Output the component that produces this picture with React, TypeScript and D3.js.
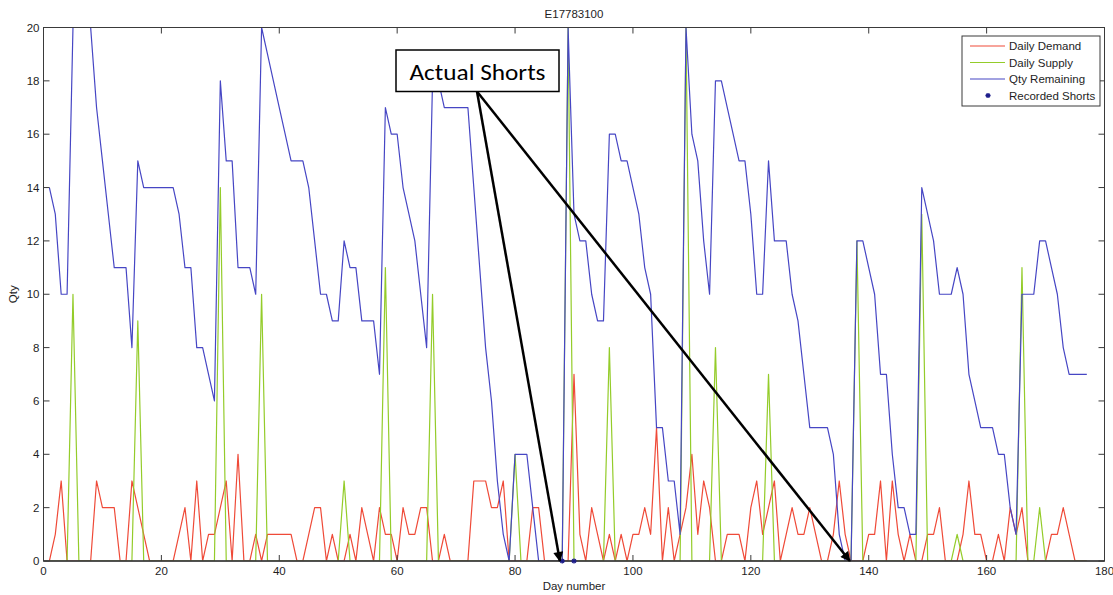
import React from "react";
import * as d3 from "d3";

// Part E17783100: daily demand, daily supply and quantity on hand, days 1..177
const dayNumbers: number[] = Array.from({ length: 177 }, (_, i) => i + 1);

const dailyDemand: number[] = [
  0, 1, 3, 0, 0, 0, 0, 0, 3, 2,
  2, 2, 0, 0, 3, 2, 1, 0, 0, 0,
  0, 0, 1, 2, 0, 3, 0, 1, 1, 2,
  3, 0, 4, 0, 0, 1, 0, 1, 1, 1,
  1, 1, 0, 0, 1, 2, 2, 0, 1, 0,
  0, 1, 0, 2, 1, 0, 2, 1, 1, 0,
  2, 1, 1, 2, 2, 0, 0, 1, 0, 0,
  0, 0, 3, 3, 3, 2, 2, 3, 0, 0,
  0, 0, 2, 2, 0, 0, 0, 0, 0, 7,
  1, 0, 2, 1, 0, 1, 0, 1, 0, 1,
  1, 2, 1, 5, 0, 2, 0, 1, 2, 4,
  1, 3, 2, 0, 0, 1, 1, 1, 0, 2,
  3, 1, 2, 3, 0, 1, 2, 1, 1, 2,
  1, 0, 0, 1, 3, 1, 0, 0, 0, 1,
  1, 3, 0, 3, 1, 0, 1, 0, 0, 1,
  1, 2, 0, 0, 0, 1, 3, 1, 1, 0,
  0, 1, 0, 2, 1, 2, 0, 0, 0, 0,
  1, 1, 2, 1, 0, 0, 0,
];

const dailySupply: number[] = [
  0, 0, 0, 0, 10, 0, 0, 0, 0, 0,
  0, 0, 0, 0, 0, 9, 0, 0, 0, 0,
  0, 0, 0, 0, 0, 0, 0, 0, 0, 14,
  0, 0, 0, 0, 0, 0, 10, 0, 0, 0,
  0, 0, 0, 0, 0, 0, 0, 0, 0, 0,
  3, 0, 0, 0, 0, 0, 0, 11, 0, 0,
  0, 0, 0, 0, 0, 10, 0, 0, 0, 0,
  0, 0, 0, 0, 0, 0, 0, 0, 0, 4,
  0, 0, 0, 0, 0, 0, 0, 0, 20, 0,
  0, 0, 0, 0, 0, 8, 0, 0, 0, 0,
  0, 0, 0, 0, 0, 0, 0, 0, 20, 0,
  0, 0, 0, 8, 0, 0, 0, 0, 0, 0,
  0, 0, 7, 0, 0, 0, 0, 0, 0, 0,
  0, 0, 0, 0, 0, 0, 0, 12, 0, 0,
  0, 0, 0, 0, 0, 0, 0, 0, 13, 0,
  0, 0, 0, 0, 1, 0, 0, 0, 0, 0,
  0, 0, 0, 0, 0, 11, 0, 0, 2, 0,
  0, 0, 0, 0, 0, 0, 0,
];

const qtyRemaining: number[] = [
  14, 13, 10, 10, 20, 20, 20, 20, 17, 15,
  13, 11, 11, 11, 8, 15, 14, 14, 14, 14,
  14, 14, 13, 11, 11, 8, 8, 7, 6, 18,
  15, 15, 11, 11, 11, 10, 20, 19, 18, 17,
  16, 15, 15, 15, 14, 12, 10, 10, 9, 9,
  12, 11, 11, 9, 9, 9, 7, 17, 16, 16,
  14, 13, 12, 10, 8, 18, 18, 17, 17, 17,
  17, 17, 14, 11, 8, 6, 3, 1, 0, 4,
  4, 4, 2, 0, 0, 0, 0, 0, 20, 13,
  12, 12, 10, 9, 9, 16, 16, 15, 15, 14,
  13, 11, 10, 5, 5, 3, 3, 1, 20, 16,
  15, 12, 10, 18, 18, 17, 16, 15, 15, 13,
  10, 10, 15, 12, 12, 12, 10, 9, 7, 5,
  5, 5, 5, 4, 1, 0, 0, 12, 12, 11,
  10, 7, 7, 4, 2, 2, 1, 1, 14, 13,
  12, 10, 10, 10, 11, 10, 7, 6, 5, 5,
  5, 4, 4, 2, 1, 10, 10, 10, 12, 12,
  11, 10, 8, 7, 7, 7, 7,
];

const recordedShortDays: number[] = [88, 90];
const recordedShortQty: number[] = [0, 0];

const xTicks: number[] = [0, 20, 40, 60, 80, 100, 120, 140, 160, 180];
const yTicks: number[] = [0, 2, 4, 6, 8, 10, 12, 14, 16, 18, 20];

const legendLabels: string[] = ["Daily Demand", "Daily Supply", "Qty Remaining", "Recorded Shorts"];
const calloutText = "Actual Shorts";
// days the callout arrows point at (both on the zero line)
const calloutTargets: number[] = [87.6, 136.8];

const W = 1113;
const H = 595;
const plot = { left: 43.5, right: 1104.5, top: 27.5, bottom: 561 };

const RED = "#ef4a38";
const GREEN = "#94cc2a";
const BLUE = "#4646c4";
const SHORT = "#1c1c8a";
const AXIS = "#3a3a3a";
const TEXT = "#1e1e1e";
const FONT = "'Liberation Sans', Arial, Helvetica, sans-serif";

function Asterisk({ cx, cy, r }: { cx: number; cy: number; r: number }) {
  const a = r * 0.7;
  return (
    <g stroke={SHORT} strokeWidth={1.4}>
      <line x1={cx - r} y1={cy} x2={cx + r} y2={cy} />
      <line x1={cx} y1={cy - r} x2={cx} y2={cy + r} />
      <line x1={cx - a} y1={cy - a} x2={cx + a} y2={cy + a} />
      <line x1={cx - a} y1={cy + a} x2={cx + a} y2={cy - a} />
    </g>
  );
}

export default function App() {
  const x = d3.scaleLinear().domain([0, 180]).range([plot.left, plot.right]);
  const y = d3.scaleLinear().domain([0, 20]).range([plot.bottom, plot.top]);

  const line = d3
    .line<number>()
    .x((_, i) => x(dayNumbers[i]))
    .y((v) => y(v));

  const series = [
    { values: dailyDemand, color: RED },
    { values: dailySupply, color: GREEN },
    { values: qtyRemaining, color: BLUE },
  ];

  const tickLen = 6;
  const pw = plot.right - plot.left;
  const ph = plot.bottom - plot.top;

  // legend box
  const lg = { x: 962, y: 36, w: 138, h: 70 };
  const rowY = [46, 62.5, 79, 95.5];

  // callout box
  const box = { x: 396, y: 50, w: 163, h: 41.5 };
  const arrowFrom = { x: 477, y: box.y + box.h };

  return (
    <svg
      width={W}
      height={H}
      viewBox={`0 0 ${W} ${H}`}
      style={{ position: "absolute", left: 0, top: 0, background: "#fff" }}
    >
      <defs>
        <clipPath id="plotClip">
          <rect x={plot.left} y={plot.top - 1} width={pw} height={ph + 1} />
        </clipPath>
        <marker
          id="arrowHead"
          viewBox="0 0 10 10"
          refX="9"
          refY="5"
          markerWidth="4.5"
          markerHeight="4"
          orient="auto"
        >
          <path d="M0,0 L10,5 L0,10 z" fill="#000" />
        </marker>
      </defs>

      <rect x={0} y={0} width={W} height={H} fill="#fff" />

      {/* data lines */}
      <g clipPath="url(#plotClip)" fill="none">
        {series.map((s, k) => (
          <path key={k} d={line(s.values) || ""} stroke={s.color} strokeWidth={1.2} strokeLinejoin="round" />
        ))}
      </g>

      {/* axes frame and ticks */}
      <g stroke={AXIS} strokeWidth={1} fill="none">
        <rect x={plot.left} y={plot.top} width={pw} height={ph} />
        <line x1={plot.left} y1={plot.bottom} x2={plot.right} y2={plot.bottom} strokeWidth={1.6} />
        {xTicks.map((t) => (
          <g key={"xt" + t}>
            <line x1={x(t)} y1={plot.bottom} x2={x(t)} y2={plot.bottom - tickLen} />
            <line x1={x(t)} y1={plot.top} x2={x(t)} y2={plot.top + tickLen} />
          </g>
        ))}
        {yTicks.map((t) => (
          <g key={"yt" + t}>
            <line x1={plot.left} y1={y(t)} x2={plot.left + tickLen} y2={y(t)} />
            <line x1={plot.right} y1={y(t)} x2={plot.right - tickLen} y2={y(t)} />
          </g>
        ))}
      </g>

      {/* recorded shorts */}
      {recordedShortDays.map((d, i) => (
        <Asterisk key={"rs" + d} cx={x(d)} cy={y(recordedShortQty[i])} r={2.6} />
      ))}

      {/* tick labels */}
      <g fontFamily={FONT} fontSize={11.5} fill={TEXT}>
        {xTicks.map((t) => (
          <text key={"xl" + t} x={x(t)} y={plot.bottom + 14} textAnchor="middle">
            {t}
          </text>
        ))}
        {yTicks.map((t) => (
          <text key={"yl" + t} x={plot.left - 4} y={y(t) + 4} textAnchor="end">
            {t}
          </text>
        ))}
      </g>

      {/* titles */}
      <g fontFamily={FONT} fontSize={11.5} fill={TEXT}>
        <text x={(plot.left + plot.right) / 2} y={18} textAnchor="middle">
          E17783100
        </text>
        <text x={(plot.left + plot.right) / 2} y={590} textAnchor="middle">
          Day number
        </text>
        <text transform={`translate(17, ${(plot.top + plot.bottom) / 2}) rotate(-90)`} textAnchor="middle">
          Qty
        </text>
      </g>

      {/* legend */}
      <g fontFamily={FONT} fontSize={11.5} fill={TEXT}>
        <rect x={lg.x} y={lg.y} width={lg.w} height={lg.h} fill="#fff" stroke={AXIS} strokeWidth={1} />
        {[RED, GREEN, BLUE].map((c, i) => (
          <line key={"lgl" + i} x1={970} y1={rowY[i]} x2={1005} y2={rowY[i]} stroke={c} strokeWidth={1.2} />
        ))}
        <Asterisk cx={988} cy={rowY[3]} r={2.6} />
        {legendLabels.map((l, i) => (
          <text key={"lgt" + i} x={1009} y={rowY[i] + 4}>
            {l}
          </text>
        ))}
      </g>

      {/* callout */}
      <g>
        {calloutTargets.map((d) => (
          <line
            key={"ar" + d}
            x1={arrowFrom.x}
            y1={arrowFrom.y}
            x2={x(d)}
            y2={y(0)}
            stroke="#000"
            strokeWidth={2.5}
            markerEnd="url(#arrowHead)"
          />
        ))}
        <rect x={box.x} y={box.y} width={box.w} height={box.h} fill="#fff" stroke="#000" strokeWidth={1.5} />
        <text
          x={box.x + box.w / 2}
          y={box.y + 30}
          textAnchor="middle"
          fontFamily="Carlito, Calibri, 'Open Sans', 'Noto Sans', sans-serif"
          fontSize={23}
          fill="#000"
          textLength={136}
          lengthAdjust="spacingAndGlyphs"
        >
          {calloutText}
        </text>
      </g>
    </svg>
  );
}
